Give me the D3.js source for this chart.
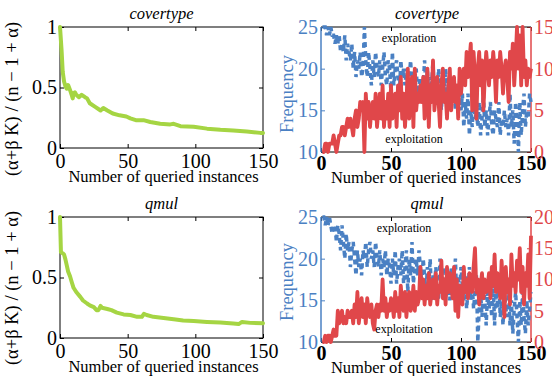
<!DOCTYPE html>
<html><head><meta charset="utf-8">
<script src="https://cdn.jsdelivr.net/npm/d3@7"></script>
<style>body{margin:0;background:#fff} svg{display:block} svg text{font-family:"Liberation Serif","Times New Roman",serif !important}</style>
</head><body><svg id="c" width="552" height="376"></svg>
<script>
// ---------- data ----------
const titles = ["covertype", "qmul"];
const xTicks = [0, 50, 100, 150];
const ratioTicks = [0, 0.5, 1];
const freqTicks = [10, 15, 20, 25];
const coverCountTicks = [0, 5, 10, 15];
const qmulCountTicks = [0, 5, 10, 15, 20];
const ratioLabel = "(\u03b1+\u03b2 K) / (n \u2212 1 + \u03b1)";
const xLabel = "Number of queried instances";
const freqLabel = "Frequency";

// green curves: (x, ratio) samples
const coverRatioX = [0,1.2,2,3,4,5,6,7.4,8.6,9.4,10,11,12,14,16,18.5,20,22,26,30,32,35,39,44,49,52,56,61.7,66.7,74,81.5,84,89,98.8,108.6,118.5,128,138,148,150];
const coverRatioY = [1,0.80,0.63,0.55,0.51,0.49,0.52,0.48,0.44,0.41,0.45,0.46,0.44,0.42,0.44,0.42,0.41,0.37,0.34,0.31,0.33,0.31,0.285,0.27,0.26,0.245,0.23,0.23,0.215,0.20,0.195,0.20,0.18,0.175,0.16,0.15,0.145,0.136,0.125,0.125];
const qmulRatioX = [0,0.7,2,3,4,5,6,7.4,8.6,10,12,15,17,20,22,25,27,28.4,30,31,35,38,42,47,52,57,60.5,62,64,69,76.5,84,91,98.8,108.6,118.5,128,132,134.5,140.7,150];
const qmulRatioY = [1,0.71,0.70,0.69,0.65,0.60,0.55,0.51,0.465,0.415,0.38,0.34,0.31,0.285,0.27,0.255,0.23,0.23,0.265,0.25,0.24,0.23,0.21,0.195,0.19,0.175,0.175,0.20,0.19,0.175,0.165,0.155,0.145,0.14,0.133,0.128,0.12,0.115,0.133,0.125,0.122];

// exploration (blue, left axis) / exploitation (red, right axis), queries 1..150
const coverExplore = [25,25,25,24,25,24,25,24,24,23, 24,23,24,22,23,22,24,21,23,22, 21,23,20,22,19,21,20,22,19,20,
  25,21,19,22,20,18,21,19,22,20, 19,21,18,20,22,19,18,21,20,17, 22,18,20,21,19,17,21,19,20,18,
  20,17,19,21,18,16,19,20,17,18, 19,16,18,21,17,20,16,19,18,21, 16,19,17,20,18,15,19,17,20,16,
  18,19,16,17,19,15,18,16,17,15, 17,13,16,14,17,12,15,13,16,14, 15,13,16,12,14,17,13,15,12,14,
  16,13,12,15,14,13,16,12,14,13, 15,13,14,12,17,13,15,11,16,14, 10,16,12,15,17,13,15,14,17,16];
const coverExploit = [0,0,1,1,0,1,1,1,2,1, 0,1,2,2,3,3,2,3,4,3, 4,3,2,4,5,3,4,6,5,6,
  0,7,4,6,3,5,6,4,7,3, 5,7,4,8,3,6,4,7,3,8, 4,6,7,3,8,5,9,4,7,3,
  6,10,4,7,9,3,10,5,7,6, 8,6,9,4,7,10,3,8,6,11, 5,7,9,6,3,8,10,6,7,4,
  8,10,5,7,9,6,8,4,10,7, 9,10,8,12,9,11,13,5,12,9, 4,10,12,8,11,5,9,12,10,8,
  11,9,12,10,6,11,9,12,10,7, 10,11,9,6,12,10,13,8,11,15, 10,14,8,15,9,11,8,10,9,10];
const qmulExplore = [25,25,24,25,24,25,24,23,24,24, 22,24,23,21,24,22,20,23,21,22, 19,21,22,20,18,21,19,20,18,21,
  20,22,19,21,22,20,21,19,22,20, 19,21,18,20,19,21,18,20,19,17, 20,18,21,17,19,20,18,21,17,19,
  21,16,20,18,22,17,19,20,18,21, 19,17,20,18,16,19,17,20,15,18, 16,19,17,15,20,18,16,19,15,17,
  18,15,19,16,17,20,15,18,16,19, 17,15,18,14,16,19,15,17,14,16, 18,10,14,16,13,17,15,12,16,14,
  15,13,17,12,16,14,18,13,15,12, 16,14,13,17,12,15,11,14,16,13, 10,15,12,16,13,11,15,12,14,16];
const qmulExploit = [0,0,1,0,1,1,0,1,2,1, 1,5,3,4,5,3,4,3,5,4, 4,5,3,6,4,8,3,5,7,4,
  6,3,7,5,4,6,3,2,5,6, 4,6,5,10,5,7,4,6,5,7, 6,4,8,5,7,4,9,6,5,8,
  4,7,8,5,6,9,5,8,6,7, 12,7,10,6,9,7,11,6,8,10, 7,11,6,9,8,13,7,10,6,12,
  8,11,9,7,12,5,10,4,9,8, 6,12,8,10,7,11,9,8,12,15, 8,10,6,9,11,7,10,8,9,11,
  7,12,9,14,8,11,10,7,13,9, 4,12,8,10,6,14,9,11,8,13, 10,15,8,12,6,11,9,14,7,17];

// ---------- drawing ----------
const GREEN = "#a5d543", BLUE = "#4a80c3", RED = "#e0474a";
const FONT = "'Liberation Serif', 'Times New Roman', serif";
const svg = d3.select("#c");

function styleAxis(sel, size, color, weight) {
  sel.attr("font-family", null).style("font-family", FONT);
  sel.select(".domain").remove();
  sel.selectAll(".tick line").attr("stroke", "#000").attr("stroke-width", 1);
  sel.selectAll(".tick text").attr("font-size", size).attr("fill", color)
     .attr("font-weight", weight || "normal").style("font-family", FONT);
}

function ratioPanel(box, xs, ys, title) {
  const g = svg.append("g");
  const x = d3.scaleLinear([0, 150], [box.x0, box.x1]);
  const y = d3.scaleLinear([0, 1], [box.y1, box.y0]);
  g.append("g").attr("transform", `translate(0,${box.y1})`)
    .call(d3.axisBottom(x).tickValues(xTicks).tickSize(-4).tickPadding(6))
    .call(s => styleAxis(s, 20, "#000"));
  g.append("g").attr("transform", `translate(0,${box.y0})`)
    .call(d3.axisTop(x).tickValues(xTicks).tickSize(-4).tickFormat(""))
    .call(s => styleAxis(s, 20, "#000"));
  g.append("g").attr("transform", `translate(${box.x0},0)`)
    .call(d3.axisLeft(y).tickValues(ratioTicks).tickSize(-4).tickPadding(3).tickFormat(d3.format("~g")))
    .call(s => styleAxis(s, 20, "#000"));
  g.append("g").attr("transform", `translate(${box.x1},0)`)
    .call(d3.axisRight(y).tickValues(ratioTicks).tickSize(-4).tickFormat(""))
    .call(s => styleAxis(s, 20, "#000"));
  g.append("rect").attr("x", box.x0).attr("y", box.y0).attr("width", box.x1 - box.x0)
    .attr("height", box.y1 - box.y0).attr("fill", "none").attr("stroke", "#000").attr("stroke-width", 1);
  const pts = xs.map((v, i) => [v, ys[i]]);
  g.append("path").datum(pts).attr("fill", "none").attr("stroke", GREEN).attr("stroke-width", 4)
    .attr("stroke-linejoin", "round").attr("stroke-linecap", "round")
    .attr("d", d3.line().x(d => x(d[0])).y(d => y(d[1])));
  g.append("text").attr("x", (box.x0 + box.x1) / 2).attr("y", box.y0 - 8).attr("text-anchor", "middle")
    .attr("font-size", 16.5).attr("font-style", "italic").text(title);
  g.append("text").attr("x", (box.x0 + box.x1) / 2 + 2).attr("y", box.y1 + 34).attr("text-anchor", "middle")
    .attr("font-size", 16.5).text(xLabel);
  g.append("text").attr("transform", `translate(${box.x0 - 42},${box.labelY}) rotate(-90)`)
    .attr("text-anchor", "middle").attr("font-size", 18.5).text(ratioLabel);
}

function freqPanel(box, explore, exploit, countTicks, title) {
  const g = svg.append("g");
  const x = d3.scaleLinear([0, 150], [box.x0, box.x1]);
  const yL = d3.scaleLinear([10, 25], [box.y1, box.y0]);
  const yR = d3.scaleLinear([0, countTicks[countTicks.length - 1]], [box.y1, box.y0]);
  g.append("g").attr("transform", `translate(0,${box.y1})`)
    .call(d3.axisBottom(x).tickValues(xTicks).tickSize(-4).tickPadding(4))
    .call(s => styleAxis(s, 20, "#000", "bold"));
  g.append("g").attr("transform", `translate(0,${box.y0})`)
    .call(d3.axisTop(x).tickValues(xTicks).tickSize(-4).tickFormat(""))
    .call(s => styleAxis(s, 20, "#000"));
  g.append("g").attr("transform", `translate(${box.x0},0)`)
    .call(d3.axisLeft(yL).tickValues(freqTicks).tickSize(-4).tickPadding(3))
    .call(s => { styleAxis(s, 20, BLUE); s.selectAll(".tick line").attr("stroke", BLUE); });
  g.append("g").attr("transform", `translate(${box.x1},0)`)
    .call(d3.axisRight(yR).tickValues(countTicks).tickSize(-4).tickPadding(3))
    .call(s => { styleAxis(s, 20, RED); s.selectAll(".tick line").attr("stroke", RED); });
  g.append("line").attr("x1", box.x0).attr("x2", box.x1).attr("y1", box.y0).attr("y2", box.y0).attr("stroke", "#000");
  g.append("line").attr("x1", box.x0).attr("x2", box.x1).attr("y1", box.y1).attr("y2", box.y1).attr("stroke", "#000");
  g.append("line").attr("x1", box.x0).attr("x2", box.x0).attr("y1", box.y0).attr("y2", box.y1).attr("stroke", BLUE).attr("stroke-width", 1.5);
  g.append("line").attr("x1", box.x1).attr("x2", box.x1).attr("y1", box.y0).attr("y2", box.y1).attr("stroke", RED).attr("stroke-width", 1.5);
  g.append("path").datum(explore).attr("fill", "none").attr("stroke", BLUE).attr("stroke-width", 3.5)
    .attr("stroke-dasharray", "5,4")
    .attr("d", d3.line().x((d, i) => x(i + 1)).y(d => yL(d)));
  g.append("path").datum(exploit).attr("fill", "none").attr("stroke", RED).attr("stroke-width", 3.8)
    .attr("stroke-linejoin", "round")
    .attr("d", d3.line().x((d, i) => x(i + 1)).y(d => yR(d)));
  g.append("text").attr("x", (box.x0 + box.x1) / 2 + 1).attr("y", box.y0 - 8).attr("text-anchor", "middle")
    .attr("font-size", 16.5).attr("font-style", "italic").text(title);
  g.append("text").attr("x", box.explX).attr("y", box.y0 + 15).attr("text-anchor", "middle")
    .attr("font-size", 12).text("exploration");
  g.append("text").attr("x", box.explX + box.exploitDx).attr("y", box.y1 - 9).attr("text-anchor", "middle")
    .attr("font-size", 12).text("exploitation");
  g.append("text").attr("x", (box.x0 + box.x1) / 2).attr("y", box.y1 + 31).attr("text-anchor", "middle")
    .attr("font-size", 16.5).text(xLabel);
  g.append("text").attr("transform", `translate(${box.x0 - 28},${box.labelY}) rotate(-90)`)
    .attr("text-anchor", "middle").attr("font-size", 18.5).attr("fill", BLUE).text(freqLabel);
}

ratioPanel({x0: 60, x1: 263, y0: 27, y1: 148, labelY: 99}, coverRatioX, coverRatioY, titles[0]);
ratioPanel({x0: 60, x1: 263, y0: 217, y1: 338, labelY: 288}, qmulRatioX, qmulRatioY, titles[1]);
freqPanel({x0: 321, x1: 531, y0: 27, y1: 152, labelY: 94, explX: 409, exploitDx: 5}, coverExplore, coverExploit, coverCountTicks, titles[0]);
freqPanel({x0: 321, x1: 531, y0: 217, y1: 342, labelY: 282, explX: 404, exploitDx: 0}, qmulExplore, qmulExploit, qmulCountTicks, titles[1]);
</script></body></html>
